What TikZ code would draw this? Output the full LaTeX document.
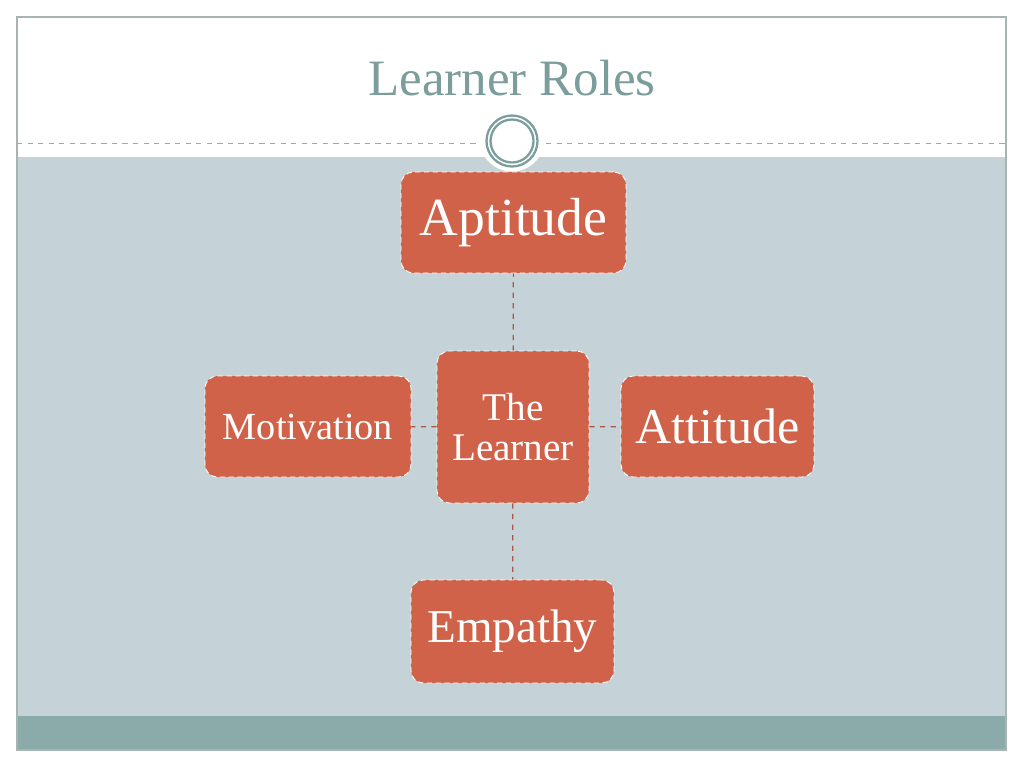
\documentclass[tikz,border=0pt]{standalone}
\usepackage{fontspec}
\setmainfont{Liberation Serif}
\usetikzlibrary{positioning}
\definecolor{slidebg}{HTML}{C5D3D8}
\definecolor{slideband}{HTML}{8AABAA}
\definecolor{framegray}{HTML}{A8B4B4}
\definecolor{titleteal}{HTML}{7B9D9C}
\definecolor{rolered}{HTML}{D1624A}
\definecolor{linkred}{HTML}{A8584A}
\begin{document}
\begin{tikzpicture}[x=0.02cm,y=-0.02cm]
			\tikzstyle{role}=[rectangle,rounded corners=7pt,fill=rolered,draw=white,densely dashed,line width=0.5pt,text=white,align=center,inner sep=0pt]
			\tikzstyle{link}=[draw=linkred,dashed,line width=0.7pt]
			\useasboundingbox (0,0) rectangle (1024,768);
			% slide background
			\fill[white] (17,17) rectangle (1006,750);
			\fill[slidebg] (17,157) rectangle (1006,716);
			\fill[slideband] (17,716) rectangle (1006,750);
			\draw[framegray,line width=0.8pt] (17,17) rectangle (1006,750);
			\draw[gray!70,dashed,line width=0.5pt] (17,143) -- (478,143);
			\draw[gray!70,dashed,line width=0.5pt] (546,143) -- (1006,143);
			\fill[white] (512,139) circle (0.65cm);
			\draw[titleteal,line width=1.3pt] (512,141) circle (0.51cm);
			\draw[titleteal,line width=1.3pt] (512,141) circle (0.43cm);
			\node[text=titleteal,font=\fontsize{29pt}{32pt}\selectfont] (title) at (512,78) {Learner Roles};
			% roles
			\node[role,minimum width=4.5cm,minimum height=2.02cm,font=\fontsize{30.5pt}{33pt}\selectfont] (aptitude) at (513.5,222.5) {Aptitude};
			\node[role,minimum width=3.04cm,minimum height=3.04cm,font=\fontsize{22.3pt}{23pt}\selectfont] (learner) at (513,427) {The\\Learner};
			\node[role,minimum width=4.12cm,minimum height=2.02cm,font=\fontsize{21.8pt}{24pt}\selectfont] (motivation) at (308,426.5) {Motivation};
			\node[role,minimum width=3.86cm,minimum height=2.02cm,font=\fontsize{28.5pt}{31pt}\selectfont] (attitude) at (717.5,426.5) {Attitude};
			\node[role,minimum width=4.06cm,minimum height=2.06cm,font=\fontsize{26.8pt}{29pt}\selectfont] (empathy) at (512.5,631.5) {Empathy};
			\foreach \r in {aptitude,motivation,attitude,empathy}
			{
				\draw[link] (learner) -- (\r);
			}
\end{tikzpicture}
\end{document}
